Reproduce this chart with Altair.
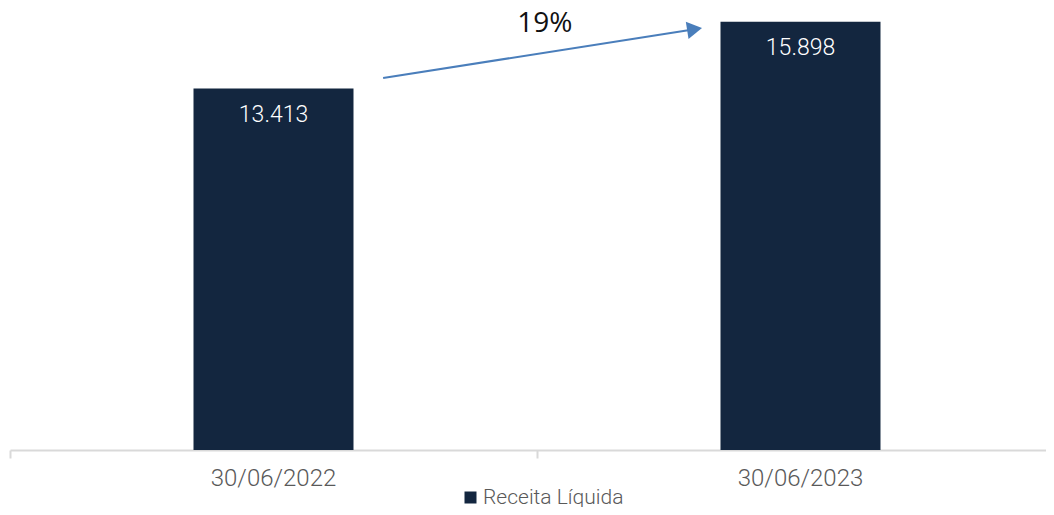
import altair as alt
import pandas as pd

# ---- data ----
categories = ["30/06/2022", "30/06/2023"]
values = [13413, 15898]
value_labels = ["13.413", "15.898"]
series_name = "Receita Líquida"

# category boundaries (band units) for the axis ticks
boundary_ticks = [0, 1, 2]

# growth arrow annotation (x in band units: 0..2, y in data units)
arrow_x = [0.708, 1.299]
arrow_y = [13806, 15618]
growth_label = "19%"
growth_x = [1.015]
growth_y = [15820]

BAR = "#13263f"
GRAY = "#595959"
ARROW = "#4a7ebb"
AXIS = "#d9d9d9"

bars_df = pd.DataFrame({
    "cat": categories,
    "value": values,
    "label": value_labels,
    "series": [series_name] * len(categories),
})
arrow_df = pd.DataFrame({"ax": arrow_x, "ay": arrow_y, "order": [0, 1]})
head_df = pd.DataFrame({"ax": [arrow_x[-1]], "ay": [arrow_y[-1]]})
growth_df = pd.DataFrame({"gx": growth_x, "gy": growth_y, "t": [growth_label]})

yscale = alt.Scale(domain=[0, 16182])
xband = alt.Scale(range=[0, 1054], paddingInner=0.6964, paddingOuter=0.3482)
xq = alt.Scale(domain=[0, 2], range=[0, 1054], nice=False, zero=False)

base = alt.Chart(bars_df)

bars = base.mark_bar(color=BAR, clip=False).encode(
    x=alt.X("cat:N", scale=xband, sort=categories,
            axis=alt.Axis(title=None, labelAngle=0, domain=False, ticks=False,
                          labelFont="Roboto", labelFontSize=24,
                          labelFontWeight=300, labelColor=GRAY,
                          labelPadding=16, grid=False, orient="bottom")),
    y=alt.Y("value:Q", scale=yscale, axis=None),
    color=alt.Color("series:N", scale=alt.Scale(range=[BAR]),
                    legend=alt.Legend(title=None, orient="none", legendX=450,
                                      legendY=473, symbolType="square",
                                      symbolSize=144, symbolStrokeWidth=0,
                                      labelFont="Roboto", labelFontSize=21,
                                      labelFontWeight=300,
                                      labelColor=GRAY, padding=0, labelOffset=2)),
)

labels = base.mark_text(color="white", font="Roboto", fontSize=23,
                        fontWeight=300, baseline="middle", dy=26).encode(
    x=alt.X("cat:N", scale=xband, sort=categories, axis=None),
    y=alt.Y("value:Q", scale=yscale),
    text="label:N",
)

arrow_line = alt.Chart(arrow_df).mark_line(color=ARROW, strokeWidth=2).encode(
    x=alt.X("ax:Q", scale=xq,
            axis=alt.Axis(title=None, orient="bottom", values=boundary_ticks,
                          labels=False, grid=False, domainColor=AXIS,
                          domainWidth=2, tickColor=AXIS, tickWidth=2,
                          tickSize=8)),
    y=alt.Y("ay:Q", scale=yscale),
    order="order:Q",
)
arrow_head = alt.Chart(head_df).mark_point(
    shape="triangle-right", size=300, filled=True, color=ARROW, opacity=1,
    angle=351).encode(
    x=alt.X("ax:Q", scale=xq, axis=None),
    y=alt.Y("ay:Q", scale=yscale),
)
growth = alt.Chart(growth_df).mark_text(
    font="Open Sans", fontSize=28, color="#111111", baseline="middle",
    align="center").encode(
    x=alt.X("gx:Q", scale=xq, axis=None),
    y=alt.Y("gy:Q", scale=yscale),
    text="t:N",
)

chart = alt.layer(bars, labels, arrow_line, arrow_head, growth).resolve_scale(
    x="independent"
).properties(
    width=1036, height=436,
    autosize=alt.AutoSizeParams(type="none"),
    padding={"left": 2, "top": 6, "right": 0, "bottom": 57},
).configure_view(stroke=None)

chart.save("out.html", embed_options={"renderer": "svg", "actions": False})
